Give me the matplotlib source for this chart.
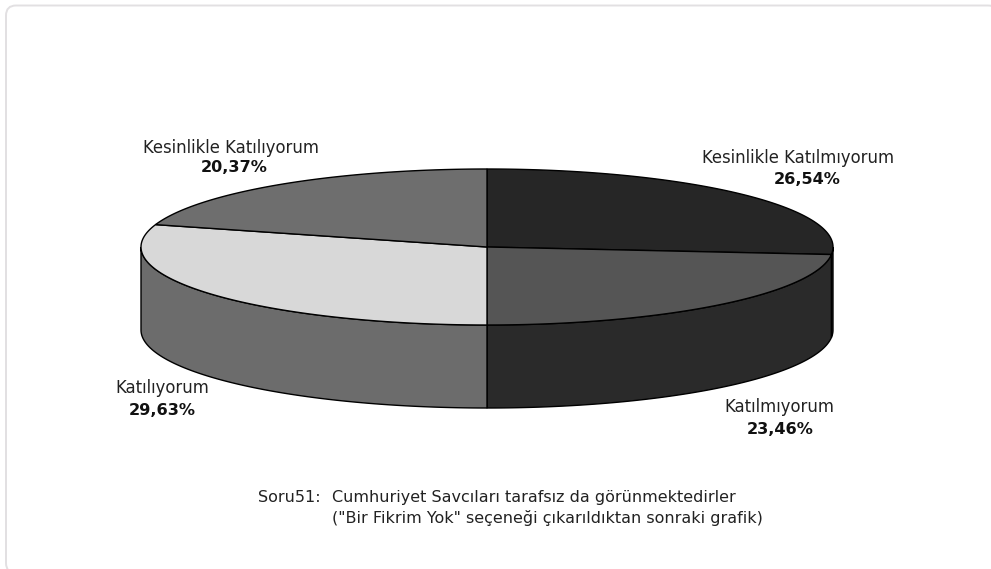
import numpy as np
import matplotlib
matplotlib.use("Agg")
import matplotlib.pyplot as plt
from matplotlib.patches import Polygon, FancyBboxPatch

plt.rcParams['font.family'] = ['DejaVu Sans']

categories = ["Kesinlikle Katılmıyorum", "Katılmıyorum", "Katılıyorum", "Kesinlikle Katılıyorum"]
values = [26.54, 23.46, 29.63, 20.37]
value_labels = ["26,54%", "23,46%", "29,63%", "20,37%"]
top_colors = ["#262626", "#555555", "#d8d8d8", "#6e6e6e"]
side_colors = ["#2a2a2a", "#2a2a2a", "#6c6c6c", "#6e6e6e"]
name_pos = [(798, 158), (779, 407), (162, 388), (231, 148)]
value_pos = [(807, 179), (780, 429), (162, 410), (234, 167)]
caption_lead = 'Soru51:'
caption = ['Cumhuriyet Savcıları tarafsız da görünmektedirler',
           '("Bir Fikrim Yok" seçeneği çıkarıldıktan sonraki grafik)']

W, H = 991, 569
fig = plt.figure(figsize=(W / 100, H / 100), dpi=100)
ax = fig.add_axes([0, 0, 1, 1])
ax.set_xlim(0, W)
ax.set_ylim(H, 0)
ax.axis("off")

ax.add_patch(FancyBboxPatch((6, 5.5), 992, 567.5, boxstyle="round,pad=0,rounding_size=10",
                            fc="white", ec="#e2e0e2", lw=1.4, zorder=0))

cx, cy, rx, ry, depth = 487, 247, 346, 78, 83
def pt(t):
    return cx + rx * np.sin(t), cy - ry * np.cos(t)

edges = np.concatenate([[0], np.cumsum(values)]) / np.sum(values) * 2 * np.pi

# side walls (only the front half of the ellipse is visible)
for i in range(len(values)):
    a, b = max(edges[i], np.pi / 2), min(edges[i + 1], 3 * np.pi / 2)
    if b <= a:
        continue
    t = np.linspace(a, b, 120)
    x, y = pt(t)
    xy = np.r_[np.c_[x, y], np.c_[x[::-1], y[::-1] + depth]]
    ax.add_patch(Polygon(xy, closed=True, fc=side_colors[i], ec="#000000", lw=1.0, zorder=2))

# top face
for i in range(len(values)):
    t = np.linspace(edges[i], edges[i + 1], 200)
    x, y = pt(t)
    xy = np.r_[[[cx, cy]], np.c_[x, y]]
    ax.add_patch(Polygon(xy, closed=True, fc=top_colors[i], ec="#000000", lw=1.0, zorder=3))

for name, val, (lx, ly), (vx, vy) in zip(categories, value_labels, name_pos, value_pos):
    ax.text(lx, ly, name, ha="center", va="center", fontsize=11.9, color="#222222")
    ax.text(vx, vy, val, ha="center", va="center", fontsize=11.6, fontweight="bold", color="#111111")

ax.text(258, 497, caption_lead, ha="left", va="center", fontsize=11.5, color="#222222")
ax.text(332, 497, caption[0], ha="left", va="center", fontsize=11.5, color="#222222")
ax.text(332, 518, caption[1], ha="left", va="center", fontsize=11.5, color="#222222")

fig.savefig("out.png", dpi=100)
